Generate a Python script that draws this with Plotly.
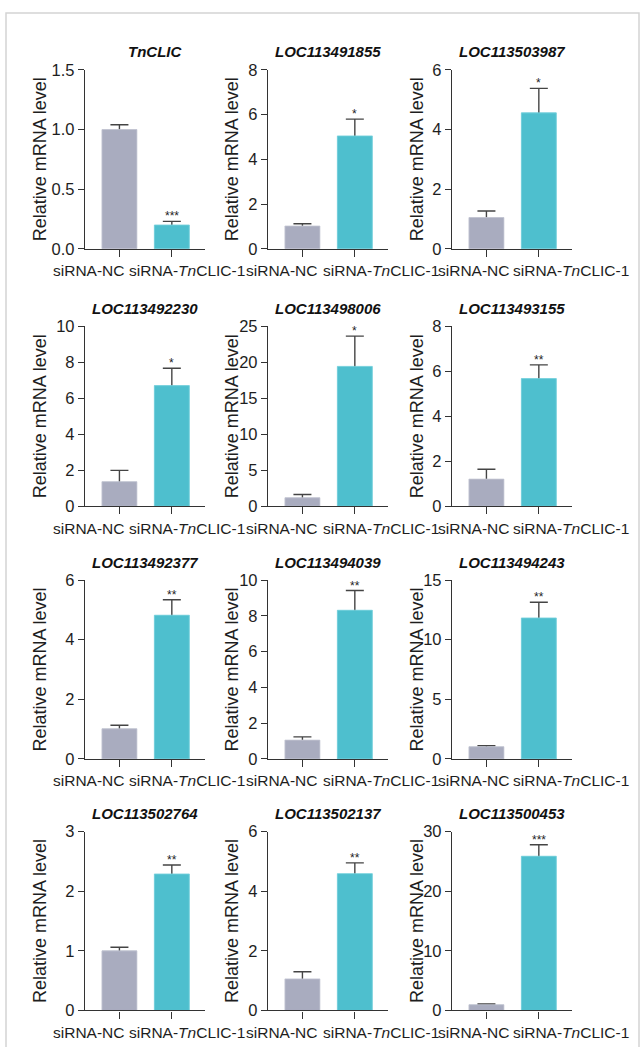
import plotly.graph_objects as go

# ---------------- data ----------------
genes = ["TnCLIC", "LOC113491855", "LOC113503987",
         "LOC113492230", "LOC113498006", "LOC113493155",
         "LOC113492377", "LOC113494039", "LOC113494243",
         "LOC113502764", "LOC113502137", "LOC113500453"]
groups = ["siRNA-NC", "siRNA-<i>Tn</i>CLIC-1"]
y_title = "Relative mRNA level"
nc_mean = [1.00, 1.02, 1.05, 1.37, 1.19, 1.21, 1.01, 1.05, 1.02, 1.00, 1.06, 0.97]
nc_err = [0.04, 0.10, 0.22, 0.63, 0.45, 0.44, 0.12, 0.18, 0.08, 0.06, 0.24, 0.12]
kd_mean = [0.20, 5.05, 4.56, 6.71, 19.45, 5.68, 4.82, 8.31, 11.82, 2.29, 4.59, 25.87]
kd_err = [0.03, 0.75, 0.82, 0.97, 4.20, 0.61, 0.52, 1.10, 1.32, 0.15, 0.36, 1.93]
y_max = [1.5, 8, 6, 10, 25, 8, 6, 10, 15, 3, 6, 30]
y_step = [0.5, 2, 2, 2, 5, 2, 2, 2, 5, 1, 2, 10]
signif = ["***", "*", "*", "*", "*", "**", "**", "**", "**", "**", "**", "***"]

# ---------------- style / layout ----------------
W, H = 643, 1047
col_x0 = [85, 268, 452]
plot_w = 120
row_top = [62, 323, 581, 837]
row_bot = [244, 506, 763, 1019]
lab_shift = [(-31, 15), (-21, 26), (-13, 32)]   # x-label offsets per column (px)
ytitle_shift = [-45, -36, -35]                   # y-title offsets per column (px)
c_nc = "#A9ACBF"
c_kd = "#4EBFCE"
c_axis = "#333333"
c_text = "#1E1E1E"
font_fam = "Arial, Liberation Sans, sans-serif"

fig = go.Figure()
layout = dict(
    width=W, height=H,
    margin=dict(l=0, r=0, t=0, b=0),
    paper_bgcolor="white", plot_bgcolor="white",
    barmode="overlay", showlegend=False,
    font=dict(family=font_fam, color=c_text),
)
annotations = []

for i, g in enumerate(genes):
    r, c = divmod(i, 3)
    n = i + 1
    xa = "x" if n == 1 else f"x{n}"
    ya = "y" if n == 1 else f"y{n}"
    x0 = col_x0[c]
    dom_x = [x0 / W, (x0 + plot_w) / W]
    dom_y = [1 - row_bot[r] / H, 1 - row_top[r] / H]
    means = [nc_mean[i], kd_mean[i]]
    errs = [nc_err[i], kd_err[i]]
    # bars carrying the error bars (lower half hidden by the overlaid bars)
    fig.add_trace(go.Bar(
        x=[0, 1], y=means, width=0.667, xaxis=xa, yaxis=ya,
        marker=dict(color=[c_nc, c_kd], line=dict(width=0)),
        error_y=dict(type="data", array=errs, symmetric=True,
                     color="#444444", thickness=1.4, width=9),
        hoverinfo="skip"))
    fig.add_trace(go.Bar(
        x=[0, 1], y=means, width=0.667, xaxis=xa, yaxis=ya,
        marker=dict(color=[c_nc, c_kd],
                    line=dict(width=0.8, color=["#C4C6D3", "#7ED3DE"])),
        hoverinfo="skip"))
    xkey = "xaxis" if n == 1 else f"xaxis{n}"
    ykey = "yaxis" if n == 1 else f"yaxis{n}"
    layout[xkey] = dict(
        domain=dom_x, anchor=ya, range=[-0.657, 1.633],
        tickvals=[0, 1], ticktext=["", ""],
        showline=True, linecolor=c_axis, linewidth=1.3,
        ticks="outside", ticklen=7, tickwidth=1.3, tickcolor=c_axis,
        showgrid=False, zeroline=False, fixedrange=True)
    layout[ykey] = dict(
        domain=dom_y, anchor=xa, range=[0, y_max[i]],
        dtick=y_step[i], tick0=0,
        tickformat=".1f" if y_step[i] < 1 else "d",
        showline=True, linecolor=c_axis, linewidth=1.3,
        ticks="outside", ticklen=6, tickwidth=1.3, tickcolor=c_axis,
        tickfont=dict(size=16.5, family=font_fam, color=c_text),
        showgrid=False, zeroline=False, fixedrange=True)
    # group labels under the x axis
    for k in range(2):
        annotations.append(dict(
            text=groups[k], xref=xa, yref=f"{ya} domain",
            x=k, y=0, xanchor="center", yanchor="middle",
            xshift=lab_shift[c][k], yshift=-22, showarrow=False,
            font=dict(size=15.5, family=font_fam, color=c_text)))
    # y-axis title
    annotations.append(dict(
        text=y_title, xref=f"{xa} domain", yref=f"{ya} domain",
        x=0, y=0.5, xanchor="center", yanchor="middle", textangle=-90,
        xshift=ytitle_shift[c], showarrow=False,
        font=dict(size=18, family=font_fam, color=c_text)))
    # panel title
    annotations.append(dict(
        text=f"<b><i>{g}</i></b>", xref=f"{xa} domain", yref=f"{ya} domain",
        x=0.5, y=1, xanchor="center", yanchor="middle", yshift=18,
        xshift=10 if i == 0 else 0,
        showarrow=False, font=dict(size=15, family=font_fam, color="#111111")))
    # significance stars
    annotations.append(dict(
        text=signif[i], xref=xa, yref=ya, x=1, y=kd_mean[i] + kd_err[i],
        xanchor="center", yanchor="bottom", yshift=-4,
        showarrow=False, font=dict(size=12, family=font_fam, color=c_text)))

layout["annotations"] = annotations
layout["shapes"] = [dict(
    type="rect", xref="paper", yref="paper",
    x0=6 / W, x1=639 / W, y0=-0.01, y1=1 - 4 / H,
    line=dict(color="#D4D4D4", width=1.5), fillcolor="rgba(0,0,0,0)")]
fig.update_layout(**layout)
fig.write_html(
    "out.html",
    config={"displayModeBar": False},
    post_script="document.body.style.margin='0';document.body.style.overflow='hidden';")
